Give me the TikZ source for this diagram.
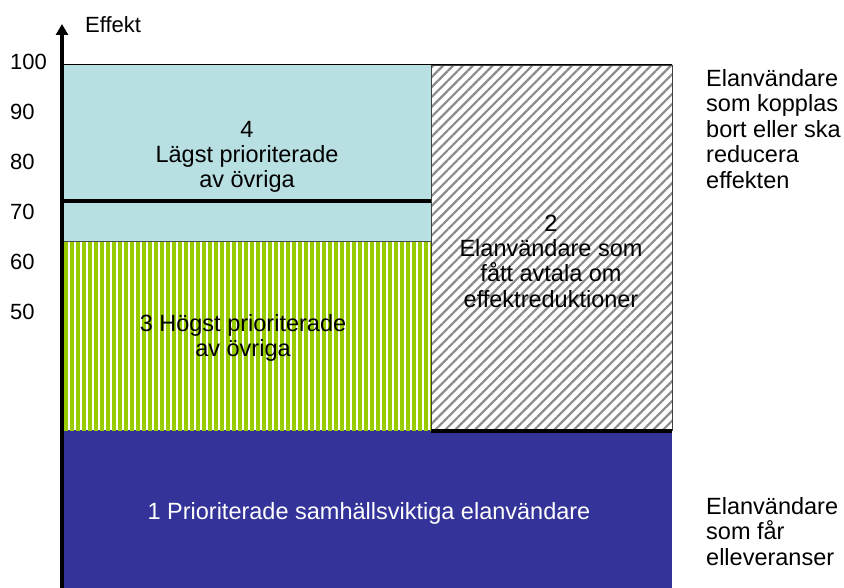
\documentclass[tikz,border=0pt]{standalone}
\usepackage{fontspec}
\setmainfont{Liberation Sans}
\usetikzlibrary{patterns.meta}
\usetikzlibrary{arrows.meta}

\definecolor{lowblue}{RGB}{184,223,226}
\definecolor{stripegreen}{RGB}{153,204,0}
\definecolor{prioblue}{RGB}{51,51,153}
\definecolor{hatchgray}{RGB}{140,140,140}

\tikzset{
  tick/.style={anchor=west, inner sep=0pt, font=\fontsize{22}{25}\selectfont},
  lbl/.style={align=center, font=\fontsize{23.5}{25.3}\selectfont},
  side/.style={align=left, anchor=north west, inner sep=0pt, font=\fontsize{23.5}{25.5}\selectfont}
}

\begin{document}
\begin{tikzpicture}[x=1pt,y=-1pt]
  \useasboundingbox (0,0) rectangle (844,588);

  \coordinate (TL) at (63,65);
  \coordinate (M) at (431,65);
  \coordinate (TR) at (672,65);
  \coordinate (G) at (63,241);
  \coordinate (GR) at (431,241);
  \coordinate (B) at (63,430);
  \coordinate (BM) at (431,430);
  \coordinate (BR) at (672,588);
  \coordinate (tip) at (62,24);

  % block 1
  \fill [prioblue] (B) rectangle (BR);
  % block 3
  \fill [white] (G) rectangle (BM);
  \fill [pattern={Lines[angle=90,distance=6pt,line width=3.8pt]},
         pattern color=stripegreen] (G) rectangle (BM);
  % block 4
  \fill [lowblue] (TL) rectangle (GR);
  \draw [line width=0.6pt, black!70] (G) -- (GR);
  \draw [line width=4pt] (63,201) -- (431,201);
  % block 2
  \fill [white] (M) rectangle (672,430);
  \fill [pattern={Lines[angle=45,distance=7pt,line width=2.2pt]},
         pattern color=hatchgray] (M) rectangle (672,430);
  \draw [line width=0.8pt, black!75] (M) rectangle (672,430);
  \draw [line width=4pt] (431,431) -- (672,431);
  \draw [line width=1pt] (TL) -- (TR);

  % axis
  \draw [line width=4pt, -{Triangle[width=12pt,length=11pt]}] (62,590) -- (tip);
  \node [anchor=west, inner sep=0pt, font=\fontsize{22}{25}\selectfont] (effekt) at (85,25) {Effekt};

  \foreach \v/\y in {100/62,90/112,80/162,70/212,60/262,50/312}
    \node [tick] (t\v) at (10,\y) {\v};

  \node [lbl] (b4) at (247,157) {4\\Lägst prioriterade\\av övriga};
  \node [lbl] (b3) at (243,338) {3 Högst prioriterade\\av övriga};
  \node [lbl] (b2) at (551,261) {2\\Elanvändare som\\fått avtala om\\effektreduktioner};
  \node [lbl, white] (b1) at (369,513) {1 Prioriterade samhällsviktiga elanvändare};

  \node [side] (top) at (706,69) {Elanvändare\\som kopplas\\bort eller ska\\reducera\\effekten};
  \node [side] (bot) at (706,497) {Elanvändare\\som får\\elleveranser};
\end{tikzpicture}
\end{document}
